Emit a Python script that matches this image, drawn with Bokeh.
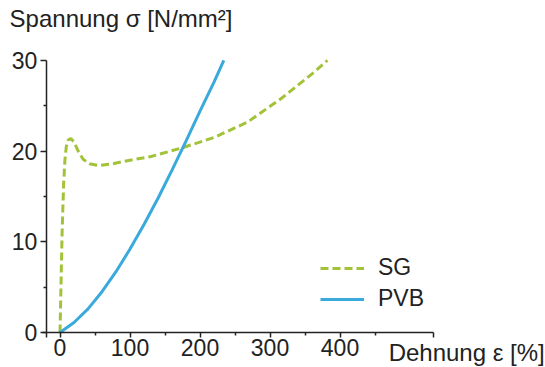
from bokeh.plotting import figure
from bokeh.models import Range1d, FixedTicker, Label, Legend, LegendItem, LinearAxis
from bokeh.embed import file_html
from bokeh.resources import INLINE

# --- data ---
sg_strain = [0, 3, 5.2, 7, 9, 11.5, 15.5, 20, 26, 33, 42, 55, 75, 100, 130, 176, 220, 268, 316, 363, 382]
sg_stress = [0, 11, 16.4, 19, 20.5, 21.2, 21.4, 21.0, 20.0, 19.1, 18.6, 18.4, 18.6, 19.0, 19.4, 20.4, 21.5, 23.2, 25.8, 28.7, 30.0]

pvb_strain = [0, 20, 40, 60, 80, 100, 120, 140, 160, 180, 200, 220, 234]
pvb_stress = [0, 1.1, 2.6, 4.5, 6.7, 9.2, 11.9, 14.8, 17.9, 21.1, 24.4, 27.6, 30.0]

x_ticks = [0, 100, 200, 300, 400, 533]
x_minor = [50, 150, 250, 350, 450]
y_ticks = [0, 10, 20, 30]
y_minor = [5, 15, 25]

series_names = ["SG", "PVB"]
y_title = "Spannung σ [N/mm²]"
x_title = "Dehnung ε [%]"

GREEN = "#a2c23a"
BLUE = "#3aa9dc"
TEXT = "#222222"
AXIS = "#222222"
FONT = "Liberation Sans"
FS = "23px"
FS_TITLE = "24px"

W, H = 545, 367
X0, XS = 59.5, 0.7      # pixel of x=0, pixels per unit
Y0, YS = 332.0, 9.07    # pixel of y=0, pixels per unit

p = figure(width=W, height=H, output_backend="svg", toolbar_location=None,
           x_range=Range1d(-X0 / XS, (W - X0) / XS),
           y_range=Range1d((Y0 - H) / YS, Y0 / YS),
           x_axis_type=None, y_axis_type=None,
           min_border=0, min_border_left=0, min_border_right=0,
           min_border_top=0, min_border_bottom=0)
p.outline_line_color = None
p.grid.visible = False
p.background_fill_color = "white"
p.border_fill_color = "white"

r_sg = p.line(sg_strain, sg_stress, line_color=GREEN, line_width=3, line_dash="8 4")
r_pvb = p.line(pvb_strain, pvb_stress, line_color=BLUE, line_width=3)

xax = LinearAxis(fixed_location=0, bounds=(-25, 533.5),
                 ticker=FixedTicker(ticks=x_ticks, minor_ticks=x_minor))
yax = LinearAxis(fixed_location=-19.5, bounds=(-0.5, 30),
                 ticker=FixedTicker(ticks=y_ticks, minor_ticks=y_minor))
for ax in (xax, yax):
    ax.axis_line_color = AXIS
    ax.axis_line_width = 1.5
    ax.major_tick_line_color = AXIS
    ax.minor_tick_line_color = AXIS
    ax.major_tick_line_width = 1.5
    ax.minor_tick_line_width = 1.5
    ax.major_tick_in = 0
    ax.minor_tick_in = 0
    ax.major_label_text_font = FONT
    ax.major_label_text_font_size = FS
    ax.major_label_text_color = TEXT

xax.major_label_overrides = {533: ""}
xax.major_tick_out = 5
xax.minor_tick_out = 3
xax.major_label_standoff = 1
yax.major_tick_out = 6
yax.minor_tick_out = 3
yax.major_label_standoff = 3
p.add_layout(xax, "below")
p.add_layout(yax, "left")

p.add_layout(Label(x=-72, y=34.6, text=y_title, text_font=FONT, text_font_size=FS_TITLE,
                   text_color=TEXT, text_align="left", text_baseline="middle"))
p.add_layout(Label(x=469.5, y=-2.2, text=x_title, text_font=FONT, text_font_size=FS_TITLE,
                   text_color=TEXT, text_align="left", text_baseline="middle"))

legend = Legend(items=[LegendItem(label=series_names[0], renderers=[r_sg]),
                       LegendItem(label=series_names[1], renderers=[r_pvb])],
                location=(320, 55), orientation="vertical",
                glyph_width=44, glyph_height=26, label_height=26, spacing=4,
                label_standoff=14, padding=0, margin=0,
                label_text_font=FONT, label_text_font_size=FS, label_text_color=TEXT,
                border_line_color=None, background_fill_alpha=0)
p.add_layout(legend, "center")

open("out.html", "w").write(file_html(p, INLINE))
